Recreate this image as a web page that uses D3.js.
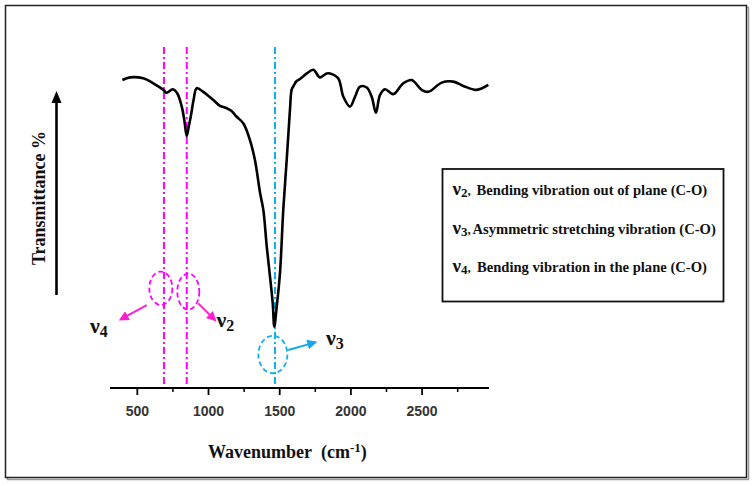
<!DOCTYPE html>
<html><head><meta charset="utf-8">
<script src="https://cdn.jsdelivr.net/npm/d3@7"></script>
<style>body{margin:0;background:#fff} svg{display:block}</style>
</head><body>
<svg id="c" width="753" height="486"></svg>
<script>
// ---- data ----
const wavenumber = [395, 449, 542, 612, 683, 706, 749, 781, 812, 830, 847, 862, 875, 895, 917, 963, 1034, 1081, 1128, 1160, 1198, 1244, 1291, 1326, 1362, 1385, 1409, 1432, 1451, 1462, 1479, 1502, 1525, 1549, 1572, 1584, 1596, 1619, 1643, 1690, 1736, 1771, 1783, 1830, 1853, 1911, 1947, 1994, 2029, 2064, 2111, 2146, 2176, 2204, 2239, 2298, 2368, 2427, 2497, 2544, 2638, 2719, 2789, 2883, 2965];
const transmittance = [93.9, 94.7, 94.4, 92.9, 90.9, 90.0, 91.1, 89.8, 85.8, 81.7, 76.8, 79.9, 82.7, 87.8, 91.4, 90.3, 87.8, 86.0, 85.3, 84.5, 82.7, 80.7, 75.6, 69.5, 59.5, 54.3, 43.1, 33.9, 25.8, 18.7, 24.8, 35.1, 54.3, 69.5, 84.8, 91.0, 92.0, 93.6, 94.2, 95.9, 97.0, 95.1, 94.7, 95.9, 95.9, 94.4, 88.8, 85.8, 88.8, 91.9, 91.6, 88.8, 83.9, 89.3, 91.1, 89.6, 92.9, 93.9, 90.9, 90.3, 93.1, 93.4, 92.1, 90.9, 92.4];
const xTicksMajor = [500, 1000, 1500, 2000, 2500];
const xTicksMinor = [750, 1250, 1750, 2250, 2750];
const xDomain = [308, 2970];
const bandNames = ["4", "2", "3"];
const bandWavenumber = [687, 847, 1467];
const bandColors = ["#ff00ff", "#ff00ff", "#12b0ea"];
// annotation ellipse centres (wavenumber, transmittance)
const circleWn = [665, 858, 1452];
const circleT = [30.4, 29.4, 10.2];
// annotation arrows (start/end in data units)
const arrowFromWn = [566, 928, 1560];
const arrowFromT = [25.3, 25.8, 11.6];
const arrowToWn = [382, 1046, 1750];
const arrowToT = [20.9, 20.7, 13.9];
const legendSubs = ["2", "3", "4"];
const legendTexts = ["Bending vibration out of plane (C-O)", "Asymmetric stretching vibration (C-O)", "Bending vibration in the plane (C-O)"];

// ---- drawing ----
const svg = d3.select("#c");
const x = d3.scaleLinear().domain(xDomain).range([110, 489]);
const y = d3.scaleLinear().domain([0, 100]).range([388, 60]);

// outer frame with shadow
svg.append("rect").attr("x", 7.5).attr("y", 7.5).attr("width", 741).attr("height", 472)
  .attr("fill", "none").attr("stroke", "#9a9a9a").attr("stroke-width", 1.5);
svg.append("rect").attr("x", 5.5).attr("y", 5.5).attr("width", 741).attr("height", 472)
  .attr("fill", "#fff").attr("stroke", "#222").attr("stroke-width", 1.5);

const defs = svg.append("defs");
function marker(id, color) {
  defs.append("marker").attr("id", id).attr("viewBox", "0 0 10 10").attr("refX", 8).attr("refY", 5)
    .attr("markerWidth", 5).attr("markerHeight", 5).attr("orient", "auto")
    .append("path").attr("d", "M0,0 L10,5 L0,10 z").attr("fill", color);
}
marker("mMag", "#ff1fd0");
marker("mBlue", "#12a8ea");

// band vertical dash-dot lines
const lineTop = 104;
bandWavenumber.forEach((w, i) => {
  svg.append("line").attr("x1", x(w)).attr("x2", x(w)).attr("y1", y(lineTop)).attr("y2", y(0))
    .attr("stroke", bandColors[i]).attr("stroke-width", 2).attr("stroke-dasharray", "7,3,2,3");
});

// x axis
const axisG = svg.append("g").attr("transform", `translate(0,${y(0)})`);
axisG.append("line").attr("x1", x.range()[0]).attr("x2", x.range()[1]).attr("stroke", "#000").attr("stroke-width", 2);
axisG.selectAll("line.maj").data(xTicksMajor).join("line").attr("class", "maj")
  .attr("x1", d => x(d)).attr("x2", d => x(d)).attr("y1", 0).attr("y2", 7).attr("stroke", "#000").attr("stroke-width", 1.8);
axisG.selectAll("line.min").data(xTicksMinor).join("line").attr("class", "min")
  .attr("x1", d => x(d)).attr("x2", d => x(d)).attr("y1", 0).attr("y2", 4).attr("stroke", "#000").attr("stroke-width", 1.5);
axisG.selectAll("text").data(xTicksMajor).join("text")
  .attr("x", d => x(d)).attr("y", 28).attr("text-anchor", "middle")
  .attr("font-family", "Liberation Sans, Arial, sans-serif").attr("font-weight", "bold").attr("font-size", 14)
  .attr("fill", "#333").text(d => d);

// spectrum
const pts = wavenumber.map((w, i) => [w, transmittance[i]]);
svg.append("path").datum(pts)
  .attr("d", d3.line().x(d => x(d[0])).y(d => y(d[1])).curve(d3.curveCatmullRom.alpha(0.5)))
  .attr("fill", "none").attr("stroke", "#000").attr("stroke-width", 2.6).attr("stroke-linejoin", "round");

// annotation ellipses
const radii = [[11.5, 16.7], [11, 18], [14.5, 18.7]];
circleWn.forEach((w, i) => {
  svg.append("ellipse").attr("cx", x(w)).attr("cy", y(circleT[i])).attr("rx", radii[i][0]).attr("ry", radii[i][1])
    .attr("fill", "none").attr("stroke", bandColors[i]).attr("stroke-width", 1.8).attr("stroke-dasharray", "5,3");
  svg.append("line").attr("x1", x(arrowFromWn[i])).attr("y1", y(arrowFromT[i]))
    .attr("x2", x(arrowToWn[i])).attr("y2", y(arrowToT[i]))
    .attr("stroke", i < 2 ? "#ff1fd0" : "#12a8ea").attr("stroke-width", 2)
    .attr("marker-end", i < 2 ? "url(#mMag)" : "url(#mBlue)");
});

// band labels
const labelPos = [[90, 333], [216.5, 327], [326, 345]];
bandNames.forEach((n, i) => {
  const t = svg.append("text").attr("x", labelPos[i][0]).attr("y", labelPos[i][1])
    .attr("font-family", "Liberation Serif, Times New Roman, serif").attr("font-weight", "bold")
    .attr("font-size", 22).attr("fill", "#111");
  t.append("tspan").text("ν");
  t.append("tspan").attr("dy", 4).attr("font-size", 16).text(n);
});

// y arrow
svg.append("line").attr("x1", 56.5).attr("x2", 56.5).attr("y1", 295).attr("y2", 100)
  .attr("stroke", "#000").attr("stroke-width", 2.6);
svg.append("path").attr("d", "M56.5,91 L51.5,103 L61.5,103 Z").attr("fill", "#000");

// axis titles
svg.append("text").attr("transform", "translate(45,198) rotate(-90)").attr("text-anchor", "middle")
  .attr("font-family", "Liberation Serif, Times New Roman, serif").attr("font-weight", "bold")
  .attr("font-size", 18).attr("fill", "#111").text("Transmittance %");
const xl = svg.append("text").attr("x", 208).attr("y", 458)
  .attr("font-family", "Liberation Serif, Times New Roman, serif").attr("font-weight", "bold")
  .attr("font-size", 18).attr("fill", "#111");
xl.append("tspan").text("Wavenumber\u00a0\u00a0(cm");
xl.append("tspan").attr("dy", -6).attr("font-size", 13).text("-1");
xl.append("tspan").attr("dy", 6).text(")");

// legend box
svg.append("rect").attr("x", 442.5).attr("y", 169).attr("width", 281).attr("height", 132.5)
  .attr("fill", "#fff").attr("stroke", "#111").attr("stroke-width", 1.8);
const legY = [195, 233.5, 272];
const descX = [476.5, 472.5, 477];
legendSubs.forEach((s, i) => {
  const t = svg.append("text").attr("x", 452.5).attr("y", legY[i])
    .attr("font-family", "Liberation Serif, Times New Roman, serif").attr("font-weight", "bold")
    .attr("font-size", 19).attr("fill", "#111");
  t.append("tspan").text("ν");
  t.append("tspan").attr("dy", 2).attr("font-size", 13).text(s);
  t.append("tspan").attr("dy", -2).attr("font-size", 13).text(",");
  svg.append("text").attr("x", descX[i]).attr("y", legY[i])
    .attr("font-family", "Liberation Serif, Times New Roman, serif").attr("font-weight", "bold")
    .attr("font-size", 14.6).attr("fill", "#111").text(legendTexts[i]);
});
</script>
</body></html>
